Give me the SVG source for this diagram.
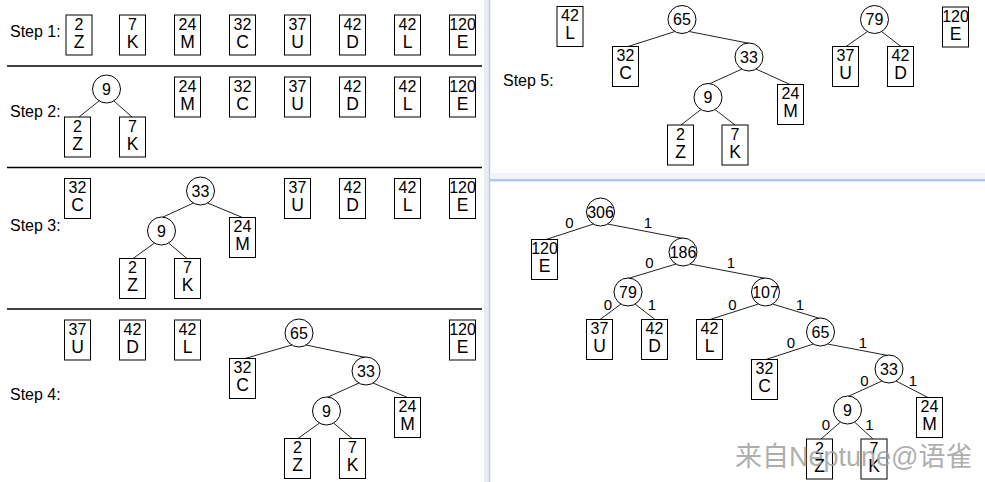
<svg xmlns="http://www.w3.org/2000/svg" width="985" height="482" viewBox="0 0 985 482">
<style>
text{font-family:"Liberation Sans",Arial,sans-serif;fill:#000}
.b{fill:#fff;stroke:#000;stroke-width:1}
.c{fill:#fff;stroke:#000;stroke-width:1}
.n{font-size:16px;text-anchor:middle}
.l{font-size:17.5px;text-anchor:middle}
.s{font-size:16px}
.e{font-size:15px;text-anchor:middle}
.sep{stroke:#000;stroke-width:1.3}
#connectors line{stroke:#222;stroke-width:1}
</style>
<rect x="0" y="0" width="985" height="482" fill="#fff"/>
<g id="panels">
<rect x="484" y="0" width="5" height="482" fill="#ececee"/>
<line x1="489.5" y1="0" x2="489.5" y2="482" stroke="#b8cdee" stroke-width="1.5"/>
<rect x="490" y="173" width="495" height="6" fill="#f1f4f9"/>
<rect x="490" y="179" width="495" height="2.5" fill="#b3c9ea"/>
<line class="sep" x1="7" y1="66" x2="482" y2="66"/>
<line class="sep" x1="7" y1="167.5" x2="482" y2="167.5"/>
<line class="sep" x1="7" y1="309" x2="482" y2="309"/>
</g>
<g id="step-labels">
<text class="s" x="10" y="37">Step 1:</text>
<text class="s" x="10" y="117">Step 2:</text>
<text class="s" x="10" y="231">Step 3:</text>
<text class="s" x="10" y="400">Step 4:</text>
<text class="s" x="503" y="86">Step 5:</text>
</g>
<g id="connectors">
<line x1="99" y1="101" x2="79" y2="117"/>
<line x1="114" y1="101" x2="132" y2="117"/>
<line x1="193.5" y1="203" x2="162" y2="217.5"/>
<line x1="207.5" y1="203" x2="242.5" y2="217.5"/>
<line x1="154.5" y1="243" x2="133" y2="258.5"/>
<line x1="168.5" y1="243" x2="187" y2="258.5"/>
<line x1="292" y1="345" x2="245" y2="358.5"/>
<line x1="306" y1="345" x2="366" y2="357.5"/>
<line x1="359" y1="383" x2="327" y2="397.5"/>
<line x1="373" y1="383" x2="407.5" y2="397.5"/>
<line x1="319.5" y1="423" x2="298" y2="438.5"/>
<line x1="333.5" y1="423" x2="352" y2="438.5"/>
<line x1="675" y1="31.5" x2="628" y2="46.5"/>
<line x1="689" y1="31.5" x2="750" y2="43.5"/>
<line x1="742" y1="69" x2="709" y2="84"/>
<line x1="756" y1="69" x2="790" y2="84.5"/>
<line x1="701" y1="109.5" x2="681" y2="125"/>
<line x1="715" y1="109.5" x2="735" y2="125"/>
<line x1="867.5" y1="31.5" x2="846" y2="46.5"/>
<line x1="881.5" y1="31.5" x2="901" y2="46.5"/>
<line x1="593.5" y1="224" x2="546" y2="239.5"/>
<line x1="607.5" y1="224" x2="683" y2="238.5"/>
<line x1="676" y1="264" x2="628" y2="278.5"/>
<line x1="690" y1="264" x2="766" y2="278.5"/>
<line x1="621" y1="304" x2="600" y2="319.5"/>
<line x1="635" y1="304" x2="655" y2="319.5"/>
<line x1="758.5" y1="304" x2="710" y2="319.5"/>
<line x1="772.5" y1="304" x2="820" y2="318.5"/>
<line x1="813.5" y1="344" x2="766" y2="359.5"/>
<line x1="827.5" y1="344" x2="888" y2="355.5"/>
<line x1="882" y1="381" x2="848" y2="396.5"/>
<line x1="896" y1="381" x2="928" y2="397.5"/>
<line x1="840.5" y1="422" x2="821" y2="439"/>
<line x1="854.5" y1="422" x2="873" y2="439"/>
</g>
<g id="edge-labels">
<text class="e" x="569.5" y="228">0</text><text class="e" x="648" y="228">1</text>
<text class="e" x="649.5" y="268">0</text><text class="e" x="731" y="268">1</text>
<text class="e" x="608" y="310">0</text><text class="e" x="652" y="310">1</text>
<text class="e" x="732.5" y="310">0</text><text class="e" x="800" y="310">1</text>
<text class="e" x="791" y="347.5">0</text><text class="e" x="863" y="347.5">1</text>
<text class="e" x="864.5" y="386">0</text><text class="e" x="913" y="386">1</text>
<text class="e" x="826" y="430">0</text><text class="e" x="869.5" y="430">1</text>
</g>
<!-- Step 1 -->
<g id="s1-2Z"><rect class="b" x="66" y="15" width="26" height="40"/><text class="n" x="79" y="29.5">2</text><text class="l" x="79" y="47.5">Z</text></g>
<g id="s1-7K"><rect class="b" x="119.5" y="15" width="26" height="40"/><text class="n" x="132.5" y="29.5">7</text><text class="l" x="132.5" y="47.5">K</text></g>
<g id="s1-24M"><rect class="b" x="174.5" y="15" width="26" height="40"/><text class="n" x="187.5" y="29.5">24</text><text class="l" x="187.5" y="47.5">M</text></g>
<g id="s1-32C"><rect class="b" x="229.5" y="15" width="26" height="40"/><text class="n" x="242.5" y="29.5">32</text><text class="l" x="242.5" y="47.5">C</text></g>
<g id="s1-37U"><rect class="b" x="284.5" y="15" width="26" height="40"/><text class="n" x="297.5" y="29.5">37</text><text class="l" x="297.5" y="47.5">U</text></g>
<g id="s1-42D"><rect class="b" x="339.5" y="15" width="26" height="40"/><text class="n" x="352.5" y="29.5">42</text><text class="l" x="352.5" y="47.5">D</text></g>
<g id="s1-42L"><rect class="b" x="394.5" y="15" width="26" height="40"/><text class="n" x="407.5" y="29.5">42</text><text class="l" x="407.5" y="47.5">L</text></g>
<g id="s1-120E"><rect class="b" x="449.5" y="15" width="26" height="40"/><text class="n" x="462.5" y="29.5">120</text><text class="l" x="462.5" y="47.5">E</text></g>
<!-- Step 2 -->
<g id="s2-9"><circle class="c" cx="106.5" cy="89" r="14"/><text class="n" x="106.5" y="94.5">9</text></g>
<g id="s2-2Z"><rect class="b" x="64.5" y="117" width="26" height="40"/><text class="n" x="77.5" y="131.5">2</text><text class="l" x="77.5" y="149.5">Z</text></g>
<g id="s2-7K"><rect class="b" x="119.5" y="117" width="26" height="40"/><text class="n" x="132.5" y="131.5">7</text><text class="l" x="132.5" y="149.5">K</text></g>
<g id="s2-24M"><rect class="b" x="174.5" y="77" width="26" height="40"/><text class="n" x="187.5" y="91.5">24</text><text class="l" x="187.5" y="109.5">M</text></g>
<g id="s2-32C"><rect class="b" x="229.5" y="77" width="26" height="40"/><text class="n" x="242.5" y="91.5">32</text><text class="l" x="242.5" y="109.5">C</text></g>
<g id="s2-37U"><rect class="b" x="284.5" y="77" width="26" height="40"/><text class="n" x="297.5" y="91.5">37</text><text class="l" x="297.5" y="109.5">U</text></g>
<g id="s2-42D"><rect class="b" x="339.5" y="77" width="26" height="40"/><text class="n" x="352.5" y="91.5">42</text><text class="l" x="352.5" y="109.5">D</text></g>
<g id="s2-42L"><rect class="b" x="394.5" y="77" width="26" height="40"/><text class="n" x="407.5" y="91.5">42</text><text class="l" x="407.5" y="109.5">L</text></g>
<g id="s2-120E"><rect class="b" x="449.5" y="77" width="26" height="40"/><text class="n" x="462.5" y="91.5">120</text><text class="l" x="462.5" y="109.5">E</text></g>
<!-- Step 3 -->
<g id="s3-32C"><rect class="b" x="64.5" y="178.5" width="26" height="40"/><text class="n" x="77.5" y="193">32</text><text class="l" x="77.5" y="211">C</text></g>
<g id="s3-33"><circle class="c" cx="200.5" cy="191" r="14"/><text class="n" x="200.5" y="196.5">33</text></g>
<g id="s3-9"><circle class="c" cx="161.5" cy="231" r="14"/><text class="n" x="161.5" y="236.5">9</text></g>
<g id="s3-24M"><rect class="b" x="229.5" y="217.5" width="26" height="40"/><text class="n" x="242.5" y="232">24</text><text class="l" x="242.5" y="250">M</text></g>
<g id="s3-2Z"><rect class="b" x="119.5" y="258.5" width="26" height="40"/><text class="n" x="132.5" y="273">2</text><text class="l" x="132.5" y="291">Z</text></g>
<g id="s3-7K"><rect class="b" x="174.5" y="258.5" width="26" height="40"/><text class="n" x="187.5" y="273">7</text><text class="l" x="187.5" y="291">K</text></g>
<g id="s3-37U"><rect class="b" x="284.5" y="178.5" width="26" height="40"/><text class="n" x="297.5" y="193">37</text><text class="l" x="297.5" y="211">U</text></g>
<g id="s3-42D"><rect class="b" x="339.5" y="178.5" width="26" height="40"/><text class="n" x="352.5" y="193">42</text><text class="l" x="352.5" y="211">D</text></g>
<g id="s3-42L"><rect class="b" x="394.5" y="178.5" width="26" height="40"/><text class="n" x="407.5" y="193">42</text><text class="l" x="407.5" y="211">L</text></g>
<g id="s3-120E"><rect class="b" x="449.5" y="178.5" width="26" height="40"/><text class="n" x="462.5" y="193">120</text><text class="l" x="462.5" y="211">E</text></g>
<!-- Step 4 -->
<g id="s4-37U"><rect class="b" x="64.5" y="320" width="26" height="40"/><text class="n" x="77.5" y="334.5">37</text><text class="l" x="77.5" y="352.5">U</text></g>
<g id="s4-42D"><rect class="b" x="119.5" y="320" width="26" height="40"/><text class="n" x="132.5" y="334.5">42</text><text class="l" x="132.5" y="352.5">D</text></g>
<g id="s4-42L"><rect class="b" x="174.5" y="320" width="26" height="40"/><text class="n" x="187.5" y="334.5">42</text><text class="l" x="187.5" y="352.5">L</text></g>
<g id="s4-120E"><rect class="b" x="449.5" y="320" width="26" height="40"/><text class="n" x="462.5" y="334.5">120</text><text class="l" x="462.5" y="352.5">E</text></g>
<g id="s4-65"><circle class="c" cx="299" cy="333" r="14"/><text class="n" x="299" y="338.5">65</text></g>
<g id="s4-32C"><rect class="b" x="229.5" y="358.5" width="26" height="40"/><text class="n" x="242.5" y="373">32</text><text class="l" x="242.5" y="391">C</text></g>
<g id="s4-33"><circle class="c" cx="366" cy="371" r="14"/><text class="n" x="366" y="376.5">33</text></g>
<g id="s4-9"><circle class="c" cx="326.5" cy="411" r="14"/><text class="n" x="326.5" y="416.5">9</text></g>
<g id="s4-24M"><rect class="b" x="394.5" y="397.5" width="26" height="40"/><text class="n" x="407.5" y="412">24</text><text class="l" x="407.5" y="430">M</text></g>
<g id="s4-2Z"><rect class="b" x="284.5" y="438.5" width="26" height="40"/><text class="n" x="297.5" y="453">2</text><text class="l" x="297.5" y="471">Z</text></g>
<g id="s4-7K"><rect class="b" x="339.5" y="438.5" width="26" height="40"/><text class="n" x="352.5" y="453">7</text><text class="l" x="352.5" y="471">K</text></g>
<!-- Step 5 -->
<g id="s5-42L"><rect class="b" x="557" y="6.5" width="26" height="40"/><text class="n" x="570" y="21">42</text><text class="l" x="570" y="39">L</text></g>
<g id="s5-65"><circle class="c" cx="682" cy="19.5" r="14"/><text class="n" x="682" y="25">65</text></g>
<g id="s5-32C"><rect class="b" x="612.5" y="46.5" width="26" height="40"/><text class="n" x="625.5" y="61">32</text><text class="l" x="625.5" y="79">C</text></g>
<g id="s5-33"><circle class="c" cx="749" cy="57" r="14"/><text class="n" x="749" y="62.5">33</text></g>
<g id="s5-9"><circle class="c" cx="708" cy="97.5" r="14"/><text class="n" x="708" y="103">9</text></g>
<g id="s5-24M"><rect class="b" x="777.5" y="84.5" width="26" height="40"/><text class="n" x="790.5" y="99">24</text><text class="l" x="790.5" y="117">M</text></g>
<g id="s5-2Z"><rect class="b" x="667.5" y="125" width="26" height="40"/><text class="n" x="680.5" y="139.5">2</text><text class="l" x="680.5" y="157.5">Z</text></g>
<g id="s5-7K"><rect class="b" x="722" y="125" width="26" height="40"/><text class="n" x="735" y="139.5">7</text><text class="l" x="735" y="157.5">K</text></g>
<g id="s5-79"><circle class="c" cx="874.5" cy="19.5" r="14"/><text class="n" x="874.5" y="25">79</text></g>
<g id="s5-37U"><rect class="b" x="832.5" y="46.5" width="26" height="40"/><text class="n" x="845.5" y="61">37</text><text class="l" x="845.5" y="79">U</text></g>
<g id="s5-42D"><rect class="b" x="887.5" y="46.5" width="26" height="40"/><text class="n" x="900.5" y="61">42</text><text class="l" x="900.5" y="79">D</text></g>
<g id="s5-120E"><rect class="b" x="942.5" y="7" width="26" height="40"/><text class="n" x="955.5" y="21.5">120</text><text class="l" x="955.5" y="39.5">E</text></g>
<!-- Final tree -->
<g id="f-306"><circle class="c" cx="600.5" cy="212" r="14"/><text class="n" x="600.5" y="217.5">306</text></g>
<g id="f-120E"><rect class="b" x="531.5" y="239.5" width="26" height="40"/><text class="n" x="544.5" y="254">120</text><text class="l" x="544.5" y="272">E</text></g>
<g id="f-186"><circle class="c" cx="683" cy="252" r="14"/><text class="n" x="683" y="257.5">186</text></g>
<g id="f-79"><circle class="c" cx="628" cy="292" r="14"/><text class="n" x="628" y="297.5">79</text></g>
<g id="f-107"><circle class="c" cx="765.5" cy="292" r="14"/><text class="n" x="765.5" y="297.5">107</text></g>
<g id="f-37U"><rect class="b" x="586.5" y="319.5" width="26" height="40"/><text class="n" x="599.5" y="334">37</text><text class="l" x="599.5" y="352">U</text></g>
<g id="f-42D"><rect class="b" x="641.5" y="319.5" width="26" height="40"/><text class="n" x="654.5" y="334">42</text><text class="l" x="654.5" y="352">D</text></g>
<g id="f-42L"><rect class="b" x="696.5" y="319.5" width="26" height="40"/><text class="n" x="709.5" y="334">42</text><text class="l" x="709.5" y="352">L</text></g>
<g id="f-65"><circle class="c" cx="820.5" cy="332" r="14"/><text class="n" x="820.5" y="337.5">65</text></g>
<g id="f-32C"><rect class="b" x="751.5" y="359.5" width="26" height="40"/><text class="n" x="764.5" y="374">32</text><text class="l" x="764.5" y="392">C</text></g>
<g id="f-33"><circle class="c" cx="889" cy="369" r="14"/><text class="n" x="889" y="374.5">33</text></g>
<g id="f-9"><circle class="c" cx="847.5" cy="410" r="14"/><text class="n" x="847.5" y="415.5">9</text></g>
<g id="f-24M"><rect class="b" x="916.5" y="397.5" width="26" height="40"/><text class="n" x="929.5" y="412">24</text><text class="l" x="929.5" y="430">M</text></g>
<g id="f-2Z"><rect class="b" x="806.5" y="439" width="26" height="40"/><text class="n" x="819.5" y="453.5">2</text><text class="l" x="819.5" y="471.5">Z</text></g>
<g id="f-7K"><rect class="b" x="861" y="439" width="26" height="40"/><text class="n" x="874" y="453.5">7</text><text class="l" x="874" y="471.5">K</text></g>
<g id="watermark"><text x="735" y="466" style="font-family:'Liberation Sans','Noto Sans CJK SC',sans-serif;font-size:27px;fill:#a0a0a0;fill-opacity:0.85">来自Neptune@语雀</text></g>
</svg>
